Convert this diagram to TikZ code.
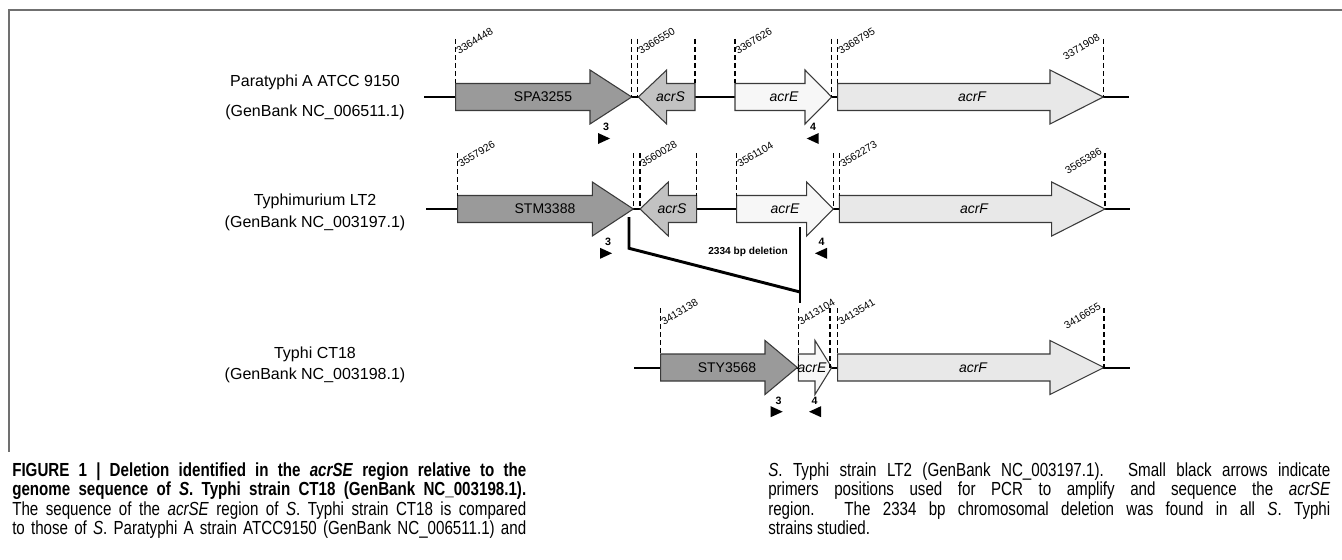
\documentclass[tikz,border=0pt]{standalone}
\usepackage{fontspec}
\setmainfont{Liberation Sans}
\newfontfamily\capfont[FakeStretch=0.80]{Liberation Sans}
\definecolor{frame}{HTML}{707070}
\definecolor{outline}{HTML}{3A3A3A}
\definecolor{orfdark}{HTML}{9A9A9A}
\definecolor{orfmid}{HTML}{C2C2C2}
\definecolor{orfpale}{HTML}{F7F7F7}
\definecolor{orflight}{HTML}{E8E8E8}

% forward gene: start, head base, tip, axis y, fill
\newcommand{\orfR}[5]{%
  \filldraw[gene, fill=#5] (#1,#4-13.5) -- (#2,#4-13.5) -- (#2,#4-27) -- (#3,#4)
    -- (#2,#4+27) -- (#2,#4+13.5) -- (#1,#4+13.5) -- cycle;}
% reverse gene: tip, head base, end, axis y, fill
\newcommand{\orfL}[5]{%
  \filldraw[gene, fill=#5] (#1,#4) -- (#2,#4-27) -- (#2,#4-13.5) -- (#3,#4-13.5)
    -- (#3,#4+13.5) -- (#2,#4+13.5) -- (#2,#4+27) -- cycle;}
% dashed position mark: x, top y, bottom y
\newcommand{\posmark}[3]{\draw[posline] (#1,#2) -- (#1,#3);}
% primer triangles: x of back, axis y
\newcommand{\primerR}[2]{\fill (#1,#2-5.5) -- (#1+12,#2) -- (#1,#2+5.5) -- cycle;}
\newcommand{\primerL}[2]{\fill (#1,#2) -- (#1+12,#2-5.5) -- (#1+12,#2+5.5) -- cycle;}
% justified caption line
\newcommand{\capline}[2]{\makebox[#1][s]{#2}}

\begin{document}
\begin{tikzpicture}[x=0.75pt, y=-0.75pt,
    gene/.style={draw=outline, line width=0.8pt},
    posline/.style={dashed, dash pattern=on 3.5pt off 2.5pt, line width=0.9pt},
    dna/.style={line width=1.5pt},
    orflab/.style={font=\fontsize{10.5}{12}\selectfont},
    orfit/.style={font=\fontsize{10.5}{12}\selectfont\itshape},
    coord/.style={font=\fontsize{7.8}{9}\selectfont, rotate=31, inner sep=0pt},
    strain/.style={font=\fontsize{12}{14}\selectfont, inner sep=0pt},
    primlab/.style={font=\fontsize{8}{9}\selectfont\bfseries, inner sep=0pt},
    captext/.style={font=\capfont\fontsize{14.2}{16}\selectfont, inner sep=0pt, anchor=base west}]
  \useasboundingbox (0,0) rectangle (1342,560);
  % frame
  \draw[frame, line width=1.5pt] (1342,10) -- (9,10) -- (9,452);

  % strain names
  \node[strain] (para1) at (315,82) {Paratyphi A ATCC 9150};
  \node[strain] (para2) at (315,112) {(GenBank NC\_006511.1)};
  \node[strain] (typm1) at (315,201.7) {Typhimurium LT2};
  \node[strain] (typm2) at (315,223.3) {(GenBank NC\_003197.1)};
  \node[strain] (typh1) at (315,354) {Typhi CT18};
  \node[strain] (typh2) at (315,375) {(GenBank NC\_003198.1)};

  % paratyphi A
  \draw[dna] (424,97) -- (1129,97);
  \orfR{455.7}{590}{631.7}{97}{orfdark}
  \orfL{638.3}{666.7}{695}{97}{orfmid}
  \orfR{735}{805}{831.7}{97}{orfpale}
  \orfR{837.7}{1050}{1103.3}{97}{orflight}
  \node[orflab] (pa) at (543,97) {SPA3255};
  \node[orfit] (pb) at (670.5,97) {acrS};
  \node[orfit] (pc) at (784,97) {acrE};
  \node[orfit] (pd) at (972,97) {acrF};
  \foreach \xx/\yy in {455.7/83.5, 631.7/97, 637.7/97, 695/83.5, 735/83.5,
      831.7/97, 837.7/83.5, 1103.3/97}
    {\posmark{\xx}{39}{\yy}}
  \node[coord, anchor=south west] (pn1) at (459,55) {3364448};
  \node[coord, anchor=south west] (pn2) at (641,55) {3366550};
  \node[coord, anchor=south west] (pn3) at (738,55) {3367626};
  \node[coord, anchor=south west] (pn4) at (841,55) {3368795};
  \node[coord, anchor=south east] (pn5) at (1101,40) {3371908};
  \primerR{598}{138.5}
  \primerL{806.7}{138.5}
  \node[primlab] (pp3) at (606,127) {3};
  \node[primlab] (pp4) at (813,127) {4};

  % typhimurium LT2
  \draw[dna] (426,209) -- (1130,209);
  \orfR{457.7}{592.3}{633.3}{209}{orfdark}
  \orfL{640}{668.3}{696.7}{209}{orfmid}
  \orfR{736.7}{806.7}{833.3}{209}{orfpale}
  \orfR{839.3}{1051.7}{1105}{209}{orflight}
  \node[orflab] (ma) at (545,209) {STM3388};
  \node[orfit] (mb) at (672,209) {acrS};
  \node[orfit] (mc) at (785,209) {acrE};
  \node[orfit] (md) at (974,209) {acrF};
  \foreach \xx/\yy in {457.7/195.5, 633.3/209, 640/209, 696.7/195.5, 736.7/195.5,
      833.3/209, 839.3/195.5, 1105/209}
    {\posmark{\xx}{153}{\yy}}
  \node[coord, anchor=south west] (mn1) at (461,168) {3557926};
  \node[coord, anchor=south west] (mn2) at (643,168) {3560028};
  \node[coord, anchor=south west] (mn3) at (740,168) {3561104};
  \node[coord, anchor=south west] (mn4) at (843,168) {3562273};
  \node[coord, anchor=south east] (mn5) at (1103,154) {3565386};
  \primerR{600}{253.3}
  \primerL{815}{253.3}
  \node[primlab] (mp3) at (608,242) {3};
  \node[primlab] (mp4) at (821.5,242) {4};

  % deletion
  \coordinate (del1) at (629,217);
  \coordinate (del2) at (629,248.3);
  \coordinate (del3) at (800,292);
  \coordinate (del4) at (800,227);
  \coordinate (del5) at (800,303);
  \draw[line width=2.2pt] (del1) -- (del2) -- (del3);
  \draw[line width=2.2pt] (del4) -- (del5);
  \node[font=\fontsize{7.6}{9}\selectfont\bfseries] (dlab) at (748,252) {2334 bp deletion};

  % typhi CT18
  \draw[dna] (634.3,367.5) -- (1130,367.5);
  \orfR{660.7}{765}{797.3}{367.5}{orfdark}
  \orfR{798.3}{815}{831.7}{367.5}{orfpale}
  \orfR{837.7}{1050}{1104}{367.5}{orflight}
  \node[orflab] (ta) at (727,367.5) {STY3568};
  \node[orfit] (tb) at (812,367.5) {acrE};
  \node[orfit] (td) at (973,367.5) {acrF};
  \foreach \xx/\yy in {660.7/354, 798.3/367.5, 830/367.5, 837.7/354, 1104/367.5}
    {\posmark{\xx}{308}{\yy}}
  \node[coord, anchor=south west] (tn1) at (664,326) {3413138};
  \node[coord, anchor=south west] (tn2) at (801,326) {3413104};
  \node[coord, anchor=south west] (tn3) at (841,326) {3413541};
  \node[coord, anchor=south east] (tn4) at (1102,309) {3416655};
  \primerR{770.7}{411.7}
  \primerL{809}{411.7}
  \node[primlab] (tp3) at (778.5,401) {3};
  \node[primlab] (tp4) at (814.5,401) {4};

  % caption, left column
  \node[captext] (capl1) at (12,476) {\capline{385.5pt}{\textbf{FIGURE 1 | Deletion identified
    in the \textit{acrSE} region relative to the}}};
  \node[captext] (capl2) at (12,495.5) {\capline{385.5pt}{\textbf{genome sequence of
    \textit{S}. Typhi strain CT18 (GenBank NC\_003198.1).}}};
  \node[captext] (capl3) at (12,515) {\capline{385.5pt}{The sequence of the \textit{acrSE}
    region of \textit{S}. Typhi strain CT18 is compared}};
  \node[captext] (capl4) at (12,534.5) {\capline{385.5pt}{to those of \textit{S}. Paratyphi A
    strain ATCC9150 (GenBank NC\_006511.1) and}};
  % caption, right column
  \node[captext] (capr1) at (768,476) {\capline{421.5pt}{\textit{S}. Typhi strain LT2
    (GenBank NC\_003197.1). Small black arrows indicate}};
  \node[captext] (capr2) at (768,495.5) {\capline{421.5pt}{primers positions used for PCR
    to amplify and sequence the \textit{acrSE}}};
  \node[captext] (capr3) at (768,515) {\capline{421.5pt}{region. The 2334 bp chromosomal
    deletion was found in all \textit{S}. Typhi}};
  \node[captext] (capr4) at (768,534.5) {strains studied.};
\end{tikzpicture}
\end{document}
